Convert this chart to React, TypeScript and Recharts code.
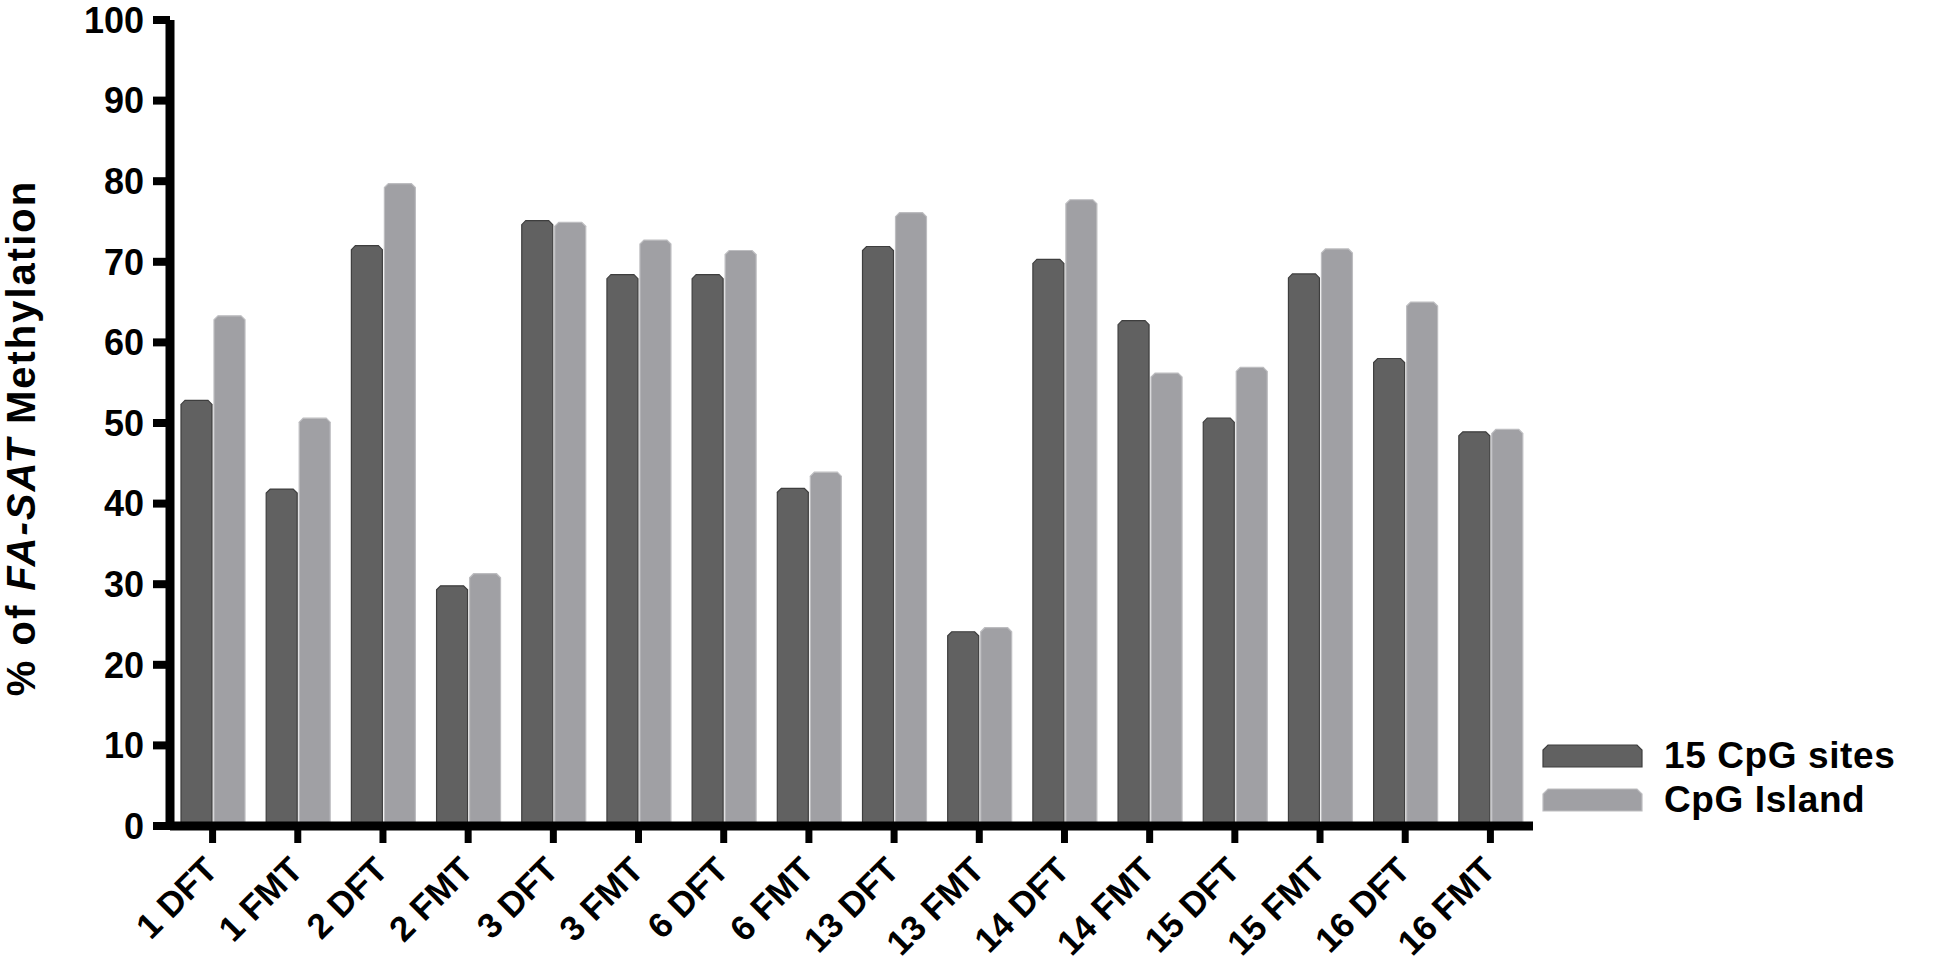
import { BarChart, Bar, XAxis, YAxis, Legend } from "recharts";

const categories = [
  "1 DFT", "1 FMT", "2 DFT", "2 FMT", "3 DFT", "3 FMT", "6 DFT", "6 FMT",
  "13 DFT", "13 FMT", "14 DFT", "14 FMT", "15 DFT", "15 FMT", "16 DFT", "16 FMT",
];
const cpgSites = [52.8, 41.8, 72.0, 29.8, 75.1, 68.4, 68.4, 41.9, 71.9, 24.1, 70.3, 62.7, 50.6, 68.5, 58.0, 48.9];
const cpgIsland = [63.3, 50.6, 79.7, 31.3, 74.9, 72.7, 71.4, 43.9, 76.1, 24.6, 77.7, 56.2, 56.9, 71.6, 65.0, 49.2];
const yTicks = [0, 10, 20, 30, 40, 50, 60, 70, 80, 90, 100];

const data = categories.map((name, i) => ({ name, sites: cpgSites[i], island: cpgIsland[i] }));

const FONT = "'Liberation Sans', Arial, sans-serif";
const DARK = "#616161";
const LIGHT = "#a0a0a4";
const strokes: Record<string, string> = { [DARK]: "#3e3e3e", [LIGHT]: "#bdbdc0" };

const chamfer = (x: number, y: number, w: number, h: number, c = 4) =>
  `M${x},${y + h} L${x},${y + c} L${x + c},${y} L${x + w - c},${y} L${x + w},${y + c} L${x + w},${y + h} Z`;

const BevelBar = (props: any) => {
  const { x, y, width, height, fill } = props;
  if (!height || height <= 0) return null;
  return <path d={chamfer(x, y, width, height)} fill={fill} stroke={strokes[fill]} strokeWidth={1.2} />;
};

// rotated category labels, right end sitting just under the tick
const XTick = ({ x, y, payload }: any) => (
  <text
    transform={`translate(${x + 7},${y + 29}) rotate(-45)`}
    textAnchor="end"
    fontFamily={FONT}
    fontWeight={700}
    fontSize={35}
    fill="#000"
  >
    {payload.value}
  </text>
);

const LegendBox = ({ payload }: any) => (
  <div style={{ fontFamily: FONT, fontWeight: 700, fontSize: 37, color: "#000" }}>
    {(payload || []).map((entry: any) => (
      <div key={entry.value} style={{ display: "flex", alignItems: "center", height: 44 }}>
        <svg width={101} height={24}>
          <path d={chamfer(1, 1, 99, 22, 5)} fill={entry.color} stroke={strokes[entry.color]} strokeWidth={1.2} />
        </svg>
        <span style={{ marginLeft: 21, letterSpacing: 0.6, whiteSpace: "nowrap" }}>{entry.value}</span>
      </div>
    ))}
  </div>
);

export default function App() {
  return (
    <div style={{ position: "absolute", left: 0, top: 0, width: 1936, height: 965, background: "#fff" }}>
      <BarChart
        width={1936}
        height={965}
        data={data}
        margin={{ top: 20, right: 403, bottom: 0, left: 0 }}
        barSize={31}
        barGap={2}
      >
        <XAxis
          dataKey="name"
          height={139}
          interval={0}
          axisLine={{ stroke: "#000", strokeWidth: 9 }}
          tickLine={{ stroke: "#000", strokeWidth: 7 }}
          tickSize={17}
          tickMargin={0}
          tick={<XTick />}
        />
        <YAxis
          width={170}
          domain={[0, 100]}
          ticks={yTicks}
          interval={0}
          axisLine={{ stroke: "#000", strokeWidth: 9 }}
          tickLine={{ stroke: "#000", strokeWidth: 8 }}
          tickSize={17}
          tickMargin={9}
          tick={{ fill: "#000", fontFamily: FONT, fontWeight: 700, fontSize: 36 }}
        />
        <Legend
          layout="vertical"
          align="center"
          verticalAlign="middle"
          content={<LegendBox />}
          wrapperStyle={{ left: 1542, top: 734, width: 394 }}
        />
        <Bar dataKey="sites" name="15 CpG sites" fill={DARK} shape={<BevelBar />} isAnimationActive={false} />
        <Bar dataKey="island" name="CpG Island" fill={LIGHT} shape={<BevelBar />} isAnimationActive={false} />
      </BarChart>
      <svg
        width={64}
        height={965}
        style={{ position: "absolute", left: 0, top: 0, pointerEvents: "none" }}
      >
        <text
          transform="translate(35,438) rotate(-90)"
          textAnchor="middle"
          fontFamily={FONT}
          fontWeight={700}
          fontSize={40}
          letterSpacing={2}
          fill="#000"
        >
          % of <tspan fontStyle="italic">FA-SAT</tspan> Methylation
        </text>
      </svg>
    </div>
  );
}
